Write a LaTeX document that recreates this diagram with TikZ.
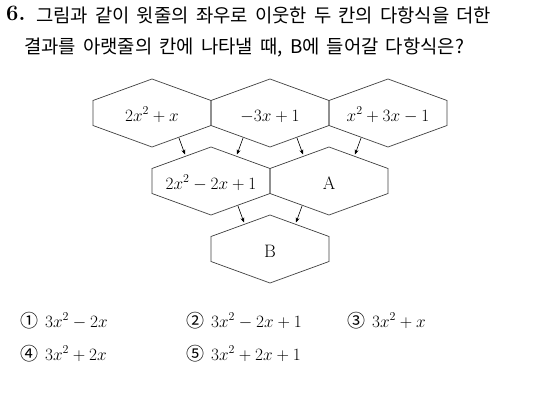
\documentclass[tikz,border=0pt]{standalone}
\usepackage{fontspec}
\newfontfamily\cjk[WordSpace=1.7]{Noto Sans CJK KR}
\usetikzlibrary{arrows.meta, calc}

% outline of one cell, drawn round a named node
\newcommand{\hexoutline}[1]{%
  \draw[hexline, shift={(#1)}] (-59,-12.5) -- (0,-34) -- (59,-12.5) -- (59,12.5) -- (0,34) -- (-59,12.5) -- cycle;}

\begin{document}
\begin{tikzpicture}[
  x=1pt, y=-1pt,
  hexline/.style={draw=black!75, line width=0.7pt},
  cell/.style={inner sep=0pt, text height=16pt, text depth=0pt, font=\fontsize{17}{20}\selectfont},
  question/.style={anchor=base west, inner sep=0pt, font=\cjk\fontsize{18.8}{20}\selectfont},
  choice/.style={anchor=base west, inner sep=0pt, font=\fontsize{17}{20}\selectfont},
  arrow/.style={line width=0.6pt, -{Stealth[length=5pt, width=4pt]}}
]
  \useasboundingbox (0,0) rectangle (550,400);

  % Question
  \node (num) [anchor=base west, inner sep=0pt, font=\fontsize{22}{24}\selectfont\bfseries] at (6,20.5) {6.};
  \node (line1) [question] at (36,22) {그림과 같이 윗줄의 좌우로 이웃한 두 칸의 다항식을 더한};
  \node (line2) [question] at (24,53.5) {결과를 아랫줄의 칸에 나타낼 때, B에 들어갈 다항식은?};

  % Cells
  \node (h1) [cell] at (152,113) {$2x^2+x$};
  \node (h2) [cell] at (270,113) {$-3x+1$};
  \node (h3) [cell] at (388,113) {$x^2+3x-1$};
  \node (h4) [cell] at (211,181) {$2x^2-2x+1$};
  \node (h5) [cell] at (329,181) {\fontsize{18}{20}\selectfont A};
  \node (h6) [cell] at (270,249) {\fontsize{18}{20}\selectfont B};

  \hexoutline{h1}
  \hexoutline{h2}
  \hexoutline{h3}
  \hexoutline{h4}
  \hexoutline{h5}
  \hexoutline{h6}

  % Sums
  \draw [arrow] ($(h1)+(27,25)$) -- ($(h4)+(-26,-26.5)$);
  \draw [arrow] ($(h2)+(-27,25)$) -- ($(h4)+(26,-26.5)$);
  \draw [arrow] ($(h2)+(27,25)$) -- ($(h5)+(-26,-26.5)$);
  \draw [arrow] ($(h3)+(-27,25)$) -- ($(h5)+(26,-26.5)$);
  \draw [arrow] ($(h4)+(27,25)$) -- ($(h6)+(-26,-26.5)$);
  \draw [arrow] ($(h5)+(-27,25)$) -- ($(h6)+(26,-26.5)$);

  % Choices
  \node (c1) [choice] at (20,327) {{\cjk\fontsize{18}{18}\selectfont ①}\hspace{7pt}$3x^2-2x$};
  \node (c2) [choice] at (186,327) {{\cjk\fontsize{18}{18}\selectfont ②}\hspace{7pt}$3x^2-2x+1$};
  \node (c3) [choice] at (347,327) {{\cjk\fontsize{18}{18}\selectfont ③}\hspace{7pt}$3x^2+x$};
  \node (c4) [choice] at (20,360) {{\cjk\fontsize{18}{18}\selectfont ④}\hspace{7pt}$3x^2+2x$};
  \node (c5) [choice] at (186,360) {{\cjk\fontsize{18}{18}\selectfont ⑤}\hspace{7pt}$3x^2+2x+1$};
\end{tikzpicture}
\end{document}
